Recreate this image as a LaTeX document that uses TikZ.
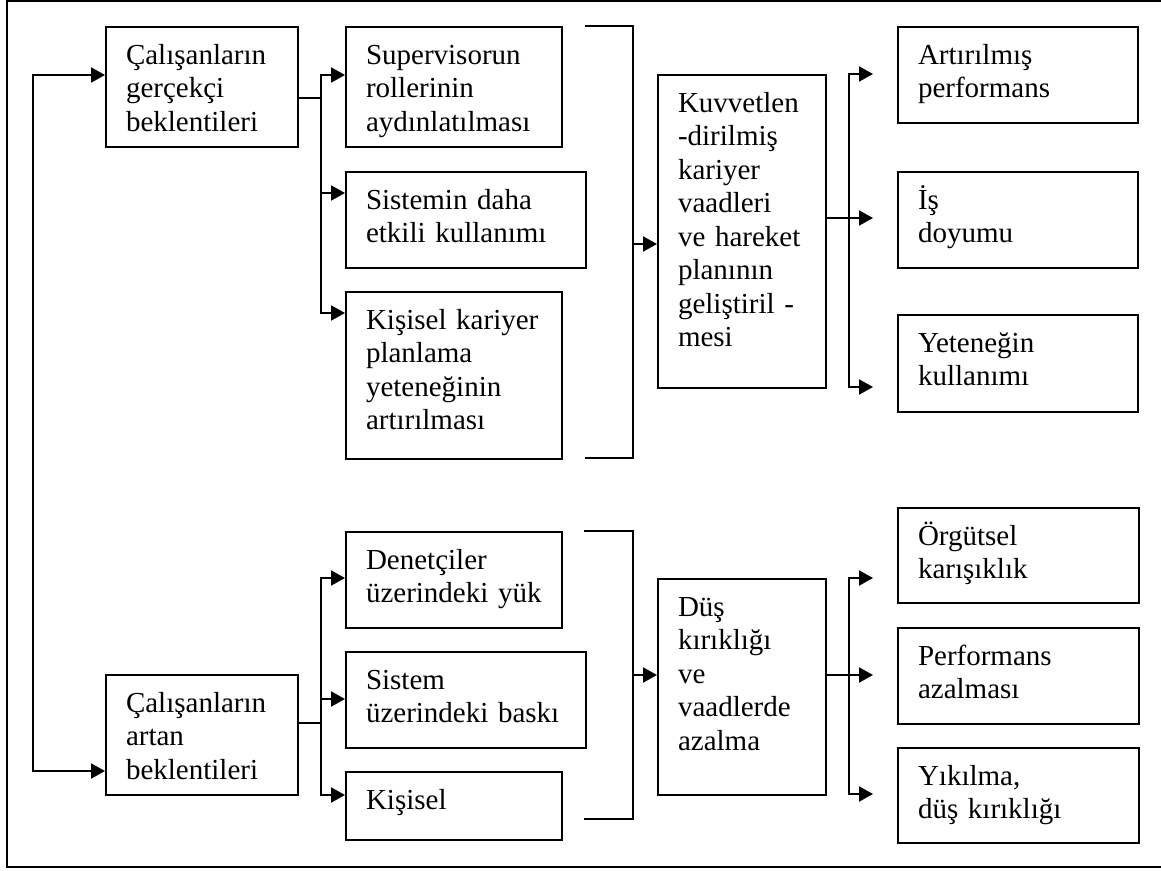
\documentclass[tikz,border=0pt]{standalone}
\usepackage{fontspec}
\setmainfont{Liberation Serif}
\usetikzlibrary{arrows.meta,calc}
\begin{document}
\begin{tikzpicture}[x=1pt,y=-1pt,
  box/.style={draw, line width=2pt, anchor=north west, inner xsep=20pt,
    inner ysep=0pt, align=left, text height=37pt,
    font=\fontsize{29}{33.5}\selectfont},
  conn/.style={line width=2pt},
  arr/.style={conn, -{Triangle[length=14pt,width=15pt]}},
  frame/.style={line width=2pt}
]
\useasboundingbox (0,0) rectangle (1161,870);

% outer frame (open on the right)
\coordinate (ftr) at (1161,1);
\coordinate (ftl) at (7,1);
\coordinate (fbl) at (7,867);
\coordinate (fbr) at (1161,867);
\draw[frame] (ftr) -- (ftl) -- (fbl) -- (fbr);

% ---------- upper chain ----------
\node[box, text width=152pt, text depth=83pt] (a1) at (105,26)
  {Çalışanların\\gerçekçi\\beklentileri};
\node[box, text width=176pt, text depth=83pt] (b1) at (345,26)
  {Supervisorun\\rollerinin\\aydınlatılması};
\node[box, text width=200pt, text depth=59pt] (b2) at (345,171)
  {Sistemin daha\\etkili kullanımı};
\node[box, text width=176pt, text depth=130pt] (b3) at (345,291)
  {Kişisel kariyer\\planlama\\yeteneğinin\\artırılması};
\node[box, text width=128pt, text depth=276pt] (c1) at (657,74)
  {Kuvvetlen\\-dirilmiş\\kariyer\\vaadleri\\ve hareket\\planının\\geliştiril -\\mesi};
\node[box, text width=200pt, text depth=59pt] (d1) at (897,26)
  {Artırılmış\\performans};
\node[box, text width=200pt, text depth=59pt] (d2) at (897,171)
  {İş\\doyumu};
\node[box, text width=200pt, text depth=60pt] (d3) at (897,314)
  {Yeteneğin\\kullanımı};

% ---------- lower chain ----------
\node[box, text width=152pt, text depth=83pt] (a2) at (105,674)
  {Çalışanların\\artan\\beklentileri};
\node[box, text width=176pt, text depth=59pt] (e1) at (345,531)
  {Denetçiler\\üzerindeki yük};
\node[box, text width=200pt, text depth=59pt] (e2) at (345,651)
  {Sistem\\üzerindeki baskı};
\node[box, text width=176pt, text depth=31pt] (e3) at (345,771)
  {Kişisel};
\node[box, text width=128pt, text depth=179pt] (f1) at (657,578)
  {Düş\\kırıklığı\\ve\\vaadlerde\\azalma};
\node[box, text width=201pt, text depth=58pt] (g1) at (897,507)
  {Örgütsel\\karışıklık};
\node[box, text width=201pt, text depth=59pt] (g2) at (897,627)
  {Performans\\azalması};
\node[box, text width=201pt, text depth=58pt] (g3) at (897,747)
  {Yıkılma,\\düş kırıklığı};

% ---------- left spine feeding both starting boxes ----------
\coordinate (spine) at (33,400);
\draw[conn, {Triangle[length=14pt,width=15pt]}-{Triangle[length=14pt,width=15pt]}]
  ($(a1.north west)+(0,49)$) -| (spine) |- ($(a2.north west)+(0,97)$);

% ---------- upper fan-out ----------
\coordinate (br1) at (321,98);
\draw[conn] ($(a1.north east)+(0,72)$) -- (br1);
\draw[arr] (br1) |- ($(b1.north west)+(0,49)$);
\draw[arr] (br1) |- ($(b2.north west)+(0,22)$);
\draw[arr] (br1) |- ($(b3.north west)+(0,22)$);

% bracket gathering the three B boxes
\coordinate (k1a) at (585,26);
\coordinate (k1b) at (633,26);
\coordinate (k1c) at (633,458);
\coordinate (k1d) at (585,458);
\coordinate (k1m) at (633,244);
\draw[conn] (k1a) -- (k1b) -- (k1c) -- (k1d);
\draw[arr] (k1m) -- (k1m -| c1.west);

% fan-out to the outcomes
\coordinate (cbr) at (849,218);
\coordinate (dt1) at (873,74);
\coordinate (dt2) at (873,218);
\coordinate (dt3) at (873,387);
\draw[conn] (c1.east |- cbr) -- (cbr);
\draw[arr] (cbr) |- (dt1);
\draw[arr] (cbr) -- (dt2);
\draw[arr] (cbr) |- (dt3);

% ---------- lower fan-out ----------
\coordinate (br2) at (321,723);
\draw[conn] (a2.east |- br2) -- (br2);
\draw[arr] (br2) |- ($(e1.north west)+(0,47)$);
\draw[arr] (br2) |- ($(e2.north west)+(0,48)$);
\draw[arr] (br2) |- ($(e3.north west)+(0,24)$);

% bracket gathering the three E boxes
\coordinate (k2a) at (584,531);
\coordinate (k2b) at (633,531);
\coordinate (k2c) at (633,819);
\coordinate (k2d) at (584,819);
\coordinate (k2m) at (633,675);
\draw[conn] (k2a) -- (k2b) -- (k2c) -- (k2d);
\draw[arr] (k2m) -- (k2m -| f1.west);

% fan-out to the negative outcomes
\coordinate (fbr2) at (849,675);
\coordinate (gt1) at (873,578);
\coordinate (gt2) at (873,675);
\coordinate (gt3) at (873,794);
\draw[conn] (f1.east |- fbr2) -- (fbr2);
\draw[arr] (fbr2) |- (gt1);
\draw[arr] (fbr2) -- (gt2);
\draw[arr] (fbr2) |- (gt3);
\end{tikzpicture}
\end{document}
